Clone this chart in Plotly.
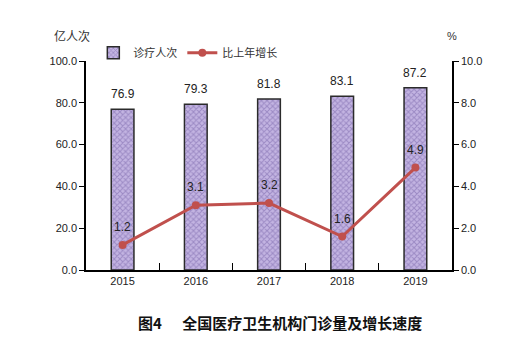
import plotly.graph_objects as go

years = ["2015", "2016", "2017", "2018", "2019"]
visits = [76.9, 79.3, 81.8, 83.1, 87.2]
growth = [1.2, 3.1, 3.2, 1.6, 4.9]
left_ticks = [0, 20, 40, 60, 80, 100]
right_ticks = [0, 2, 4, 6, 8, 10]

FONT = "Liberation Sans, Noto Sans CJK SC"
CJK = "Noto Sans CJK SC"

fig = go.Figure()
fig.add_trace(go.Bar(
    x=years, y=visits, name="诊疗人次",
    width=0.31,
    marker=dict(
        color="#AE9CD3",
        line=dict(color="#2b2b2b", width=1.5),
        pattern=dict(shape="x", fgcolor="#7560A6", bgcolor="#C3B4E2", size=4, solidity=0.45),
    ),
))
fig.add_trace(go.Scatter(
    x=years, y=growth, name="比上年增长", yaxis="y2",
    mode="lines+markers",
    line=dict(color="#C0504D", width=3),
    marker=dict(color="#C0504D", size=8),
))

for i, v in enumerate(visits):
    fig.add_annotation(x=i, y=v, xref="x", yref="y", text=f"{v:.1f}",
                       showarrow=False, yshift=15,
                       font=dict(family=FONT, size=12, color="#222"))
for i, v in enumerate(growth):
    fig.add_annotation(x=i, y=v, xref="x", yref="y2", text=f"{v:.1f}",
                       showarrow=False, yshift=18,
                       font=dict(family=FONT, size=12, color="#222"))

fig.add_annotation(x=0.016, y=1.12, xref="paper", yref="paper", text="亿人次",
                   showarrow=False, xanchor="right", yanchor="middle",
                   font=dict(family=CJK, size=12, color="#333"))
fig.add_annotation(x=1.0, y=1.12, xref="paper", yref="paper", text="%",
                   showarrow=False, xanchor="center", yanchor="middle",
                   font=dict(family=FONT, size=11, color="#333"))
fig.add_annotation(x=0.5, y=-0.25, xref="paper", yref="paper",
                   text="<b>图4      全国医疗卫生机构门诊量及增长速度</b>",
                   showarrow=False, xanchor="center", yanchor="middle", xshift=11,
                   font=dict(family=CJK, size=15, color="#111"))

fig.update_layout(
    width=525, height=342,
    margin=dict(l=86, r=73, t=61, b=72),
    paper_bgcolor="white", plot_bgcolor="white",
    showlegend=True,
    legend=dict(orientation="h", x=0.02, y=1.04, xanchor="left", yanchor="middle",
                font=dict(family=CJK, size=11, color="#333"),
                bgcolor="rgba(0,0,0,0)", itemwidth=30, tracegroupgap=0),
    xaxis=dict(
        type="category", showline=True, linecolor="#000", linewidth=1.5,
        ticks="inside", tickson="boundaries", ticklen=7, tickcolor="#000",
        showgrid=False, tickfont=dict(family=FONT, size=11, color="#222"),
        range=[-0.5, 4.5],
    ),
    yaxis=dict(
        range=[0, 100], tickvals=left_ticks, tickformat=".1f",
        showline=True, linecolor="#000", linewidth=1.5,
        ticks="outside", ticklen=5, tickcolor="#000",
        showgrid=False, zeroline=False,
        tickfont=dict(family=FONT, size=11, color="#222"),
    ),
    yaxis2=dict(
        range=[0, 10], tickvals=right_ticks, tickformat=".1f",
        overlaying="y", side="right",
        showline=True, linecolor="#000", linewidth=1.5,
        ticks="outside", ticklen=5, tickcolor="#000",
        showgrid=False, zeroline=False,
        tickfont=dict(family=FONT, size=11, color="#222"),
    ),
)

fig.write_html("out.html")
